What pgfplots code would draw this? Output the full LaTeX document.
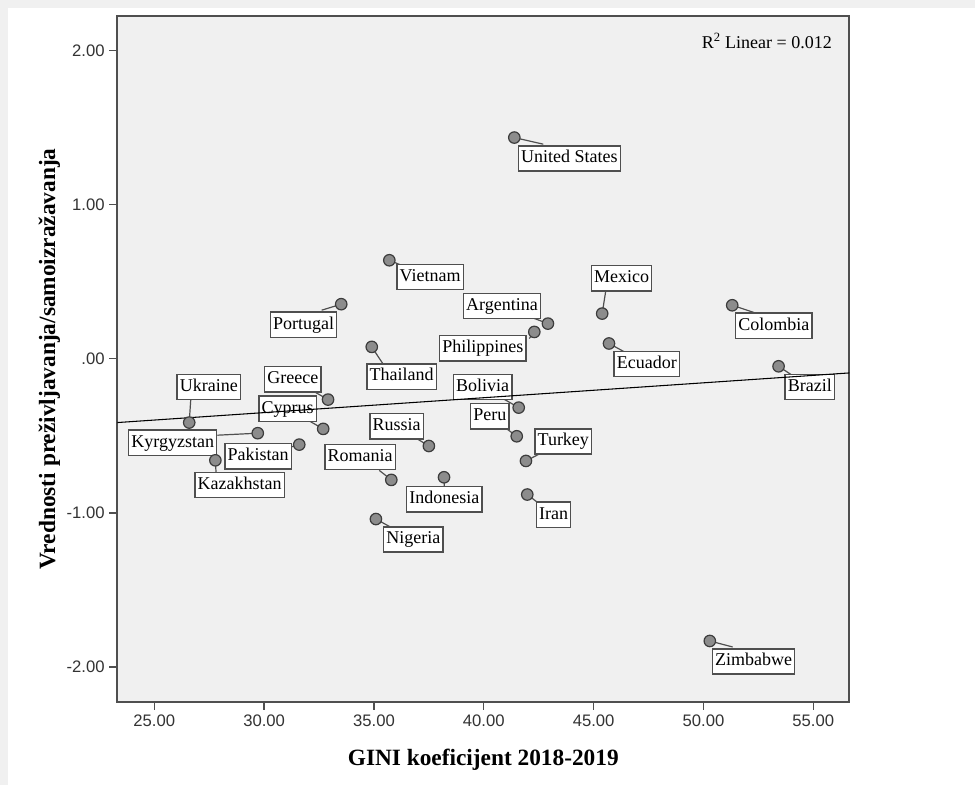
\documentclass[border=0pt]{standalone}
\usepackage{pgfplots}
\pgfplotsset{compat=1.18}
\usepackage{pgfplotstable}
\usepackage{fontspec}
\setmainfont{Liberation Serif}
\newfontfamily\ticksfont{Liberation Sans}
\definecolor{plotbg}{HTML}{F0F0F0}
\definecolor{framec}{HTML}{4F4F4F}
\definecolor{markfill}{HTML}{8C8C8C}
\definecolor{markedge}{HTML}{3C3C3C}

\pgfplotstableread{
x y name
35.70 0.639 Vietnam
33.51 0.354 Portugal
34.90 0.077 Thailand
41.39 1.435 {United States}
45.39 0.293 Mexico
42.92 0.228 Argentina
42.30 0.174 Philippines
45.70 0.099 Ecuador
51.31 0.347 Colombia
53.42 -0.049 Brazil
26.59 -0.414 Ukraine
32.91 -0.265 Greece
32.69 -0.455 Cyprus
29.71 -0.483 Kyrgyzstan
31.60 -0.557 Pakistan
27.78 -0.659 Kazakhstan
37.50 -0.566 Russia
35.79 -0.786 Romania
38.19 -0.769 Indonesia
35.09 -1.040 Nigeria
41.59 -0.317 Bolivia
41.50 -0.503 Peru
41.92 -0.663 Turkey
41.98 -0.881 Iran
50.29 -1.831 Zimbabwe
}\points

\newcommand{\lab}[7]{%
  \draw[framec, line width=0.9pt] (axis cs:#1,#2) -- (axis cs:#5,#6);
  \node[lbl] at (axis cs:#3,#4) {#7};
}

\begin{document}
\begin{tikzpicture}[x=0.75pt,y=0.75pt,
  lbl/.style={draw=framec, line width=1pt, fill=white, inner xsep=2pt, inner ysep=3.2pt,
    text height=9.5pt, text depth=3pt, font=\fontsize{13.5}{15}\selectfont}]
\path[use as bounding box, fill=white] (0,0) rectangle (975,785);
\fill[plotbg] (0,777) rectangle (975,785);
\fill[plotbg] (0,0) rectangle (8,785);
\begin{axis}[
  at={(87.975pt,62.475pt)}, anchor=south west, scale only axis,
  width=549pt, height=514.3pt,
  xmin=23.316, xmax=56.64, ymin=-2.225, ymax=2.224,
  axis background/.style={fill=plotbg},
  axis line style={framec, line width=1.3pt},
  tick align=outside, xtick pos=lower, ytick pos=left,
  major tick length=6pt,
  tick style={framec, line width=1pt},
  xtick={25,30,35,40,45,50,55},
  xticklabels={25.00,30.00,35.00,40.00,45.00,50.00,55.00},
  ytick={-2,-1,0,1,2},
  yticklabels={-2.00,-1.00,.00,1.00,2.00},
  ticklabel style={font=\ticksfont\fontsize{12.5}{14}\selectfont, text=black!80},
  xlabel={GINI koeficijent 2018-2019},
  ylabel={Vrednosti preživljavanja/samoizražavanja},
  label style={font=\bfseries\fontsize{17.5}{20}\selectfont},
  xlabel style={at={(axis description cs:0.5,-0.0924)}, anchor=base},
  ylabel style={at={(axis description cs:-0.0851,0.5)}, anchor=base},
]
\lab{35.70}{0.639}{37.56}{0.529}{37.56}{0.529}{Vietnam}
\lab{33.51}{0.354}{31.80}{0.221}{32.62}{0.315}{Portugal}
\lab{34.90}{0.077}{36.26}{-0.116}{35.40}{-0.031}{Thailand}
\lab{41.39}{1.435}{43.90}{1.299}{42.71}{1.392}{United States}
\lab{45.39}{0.293}{46.27}{0.522}{45.55}{0.438}{Mexico}
\lab{42.92}{0.228}{40.83}{0.341}{40.83}{0.341}{Argentina}
\lab{42.30}{0.174}{39.96}{0.068}{42.07}{0.131}{Philippines}
\lab{45.70}{0.099}{47.42}{-0.034}{47.42}{-0.034}{Ecuador}
\lab{51.31}{0.347}{53.21}{0.214}{52.30}{0.300}{Colombia}
\lab{53.42}{-0.049}{54.84}{-0.183}{54.84}{-0.183}{Brazil}
\lab{26.59}{-0.414}{27.48}{-0.183}{26.66}{-0.265}{Ukraine}
\lab{32.91}{-0.265}{31.31}{-0.134}{31.31}{-0.134}{Greece}
\lab{32.69}{-0.455}{31.07}{-0.324}{31.07}{-0.324}{Cyprus}
\lab{29.71}{-0.483}{25.84}{-0.545}{27.87}{-0.496}{Kyrgyzstan}
\lab{31.60}{-0.557}{29.73}{-0.633}{29.73}{-0.633}{Pakistan}
\lab{27.78}{-0.659}{28.88}{-0.818}{27.81}{-0.735}{Kazakhstan}
\lab{37.50}{-0.566}{36.03}{-0.438}{36.03}{-0.438}{Russia}
\lab{35.79}{-0.786}{34.37}{-0.638}{35.24}{-0.724}{Romania}
\lab{38.19}{-0.769}{38.21}{-0.912}{38.21}{-0.912}{Indonesia}
\lab{35.09}{-1.040}{36.79}{-1.173}{36.79}{-1.173}{Nigeria}
\lab{41.59}{-0.317}{39.95}{-0.183}{39.95}{-0.183}{Bolivia}
\lab{41.50}{-0.503}{40.28}{-0.374}{40.28}{-0.374}{Peru}
\lab{41.92}{-0.663}{43.62}{-0.537}{43.62}{-0.537}{Turkey}
\lab{41.98}{-0.881}{43.18}{-1.012}{43.18}{-1.012}{Iran}
\lab{50.29}{-1.831}{52.28}{-1.964}{51.33}{-1.870}{Zimbabwe}
\addplot[only marks, mark=*, mark size=4.3pt,
  mark options={fill=markfill, draw=markedge, line width=0.9pt}]
  table[x=x, y=y]{\points};
\addplot[black, line width=0.8pt] coordinates {(23.316,-0.414) (56.64,-0.092)};
\node[anchor=base east, font=\fontsize{13.5}{15}\selectfont] at (axis cs:56.06,2.015) {R\textsuperscript{2} Linear = 0.012};
\end{axis}
\end{tikzpicture}
\end{document}
